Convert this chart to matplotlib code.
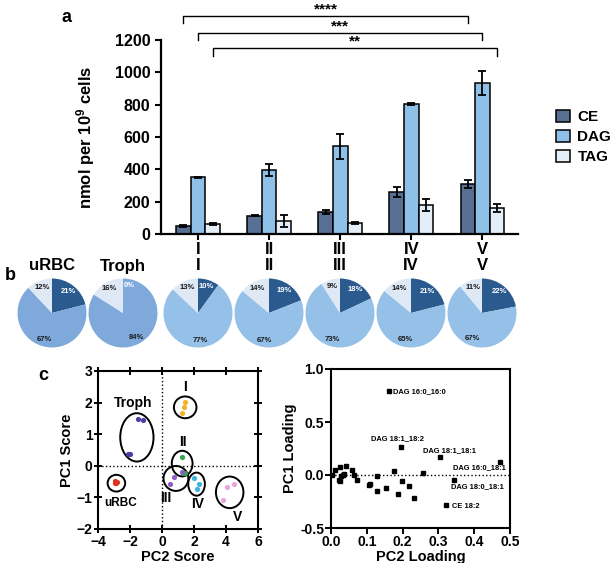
import numpy as np
import matplotlib
matplotlib.use('Agg')
import matplotlib.pyplot as plt
from matplotlib.patches import Ellipse, Patch
from matplotlib import font_manager

plt.rcParams['font.family'] = ['Liberation Sans', 'DejaVu Sans']
plt.rcParams['font.weight'] = 'bold'
plt.rcParams['axes.labelweight'] = 'bold'
plt.rcParams['mathtext.fontset'] = 'custom'
plt.rcParams['mathtext.rm'] = 'Liberation Sans:bold'
plt.rcParams['mathtext.it'] = 'Liberation Sans:bold'
plt.rcParams['mathtext.bf'] = 'Liberation Sans:bold'

# ---- panel a: neutral lipid amounts per stage
stages = ['I', 'II', 'III', 'IV', 'V']
ce = [49, 113, 134, 257, 309]
ce_err = [5, 3, 12, 31, 26]
dag = [350, 395, 543, 806, 935]
dag_err = [5, 36, 78, 6, 75]
tag = [62, 82, 68, 179, 162]
tag_err = [5, 36, 8, 35, 24]

# significance brackets: (series index, bracket height, stars)
brackets = [(0, 1350, '****'), (1, 1245, '***'), (2, 1150, '**')]

# ---- panel b: composition pies (%)
pie_names = ['uRBC', 'Troph', 'I', 'II', 'III', 'IV', 'V']
pie_ce = [21, 0, 10, 19, 18, 21, 22]
pie_dag = [67, 84, 77, 67, 73, 65, 67]
pie_tag = [12, 16, 13, 14, 9, 14, 11]

# ---- panel c: PCA scores
score_groups = ['uRBC', 'Troph', 'I', 'II', 'III', 'IV', 'V']
score_pc2 = {
    'uRBC': [-2.92, -2.85, -2.96, -2.82],
    'Troph': [-1.53, -1.20, -2.13, -2.03],
    'I': [1.46, 1.37, 1.27],
    'II': [1.25, 1.33, 1.44],
    'III': [0.75, 0.50, 1.23],
    'IV': [1.99, 2.32, 2.20],
    'V': [4.05, 4.49, 3.82],
}
score_pc1 = {
    'uRBC': [-0.47, -0.55, -0.53, -0.50],
    'Troph': [1.47, 1.45, 0.36, 0.36],
    'I': [2.03, 1.85, 1.68],
    'II': [0.27, -0.22, -0.24],
    'III': [-0.34, -0.58, -0.19],
    'IV': [-0.40, -0.59, -0.75],
    'V': [-0.66, -0.59, -1.08],
}
score_colors = {'uRBC': '#e0301e', 'Troph': '#4a3ea6', 'I': '#f2b126',
                'II': '#2ea54b', 'III': '#8d5ec6', 'IV': '#3cb3dc',
                'V': '#e9a3da'}

# ---- panel c: PCA loadings
load_pc2 = [0.161, 0.195, 0.305, 0.473, 0.343, 0.322,
            0.002, 0.011, 0.026, 0.041, 0.060, 0.063, 0.072, 0.021, 0.024,
            0.029, 0.033, 0.037, 0.105, 0.110, 0.128, 0.128, 0.155, 0.177,
            0.186, 0.198, 0.219, 0.232, 0.256]
load_pc1 = [0.79, 0.26, 0.17, 0.12, -0.047, -0.283,
            0.0, 0.05, 0.08, 0.085, 0.044, 0.003, -0.044, -0.044, -0.053,
            -0.013, 0.0, 0.009, -0.097, -0.085, -0.009, -0.148, -0.127, 0.04,
            -0.18, -0.06, -0.107, -0.214, 0.02]
load_names = ['DAG 16:0_16:0', 'DAG 18:1_18:2', 'DAG 18:1_18:1',
              'DAG 16:0_18:1', 'DAG 18:0_18:1', 'CE 18:2']

CE_C, DAG_C, TAG_C = '#566f93', '#8fc0e8', '#e4eef9'

installed = {f.name for f in font_manager.fontManager.ttflist}
narrow = 'Liberation Sans Narrow' in installed

W, H = 615, 563
fig = plt.figure(figsize=(W / 100, H / 100), dpi=100)


def box(x0, y0, x1, y1):
    # pixel box (top-left origin) -> figure fraction rect
    return [x0 / W, 1 - y1 / H, (x1 - x0) / W, (y1 - y0) / H]


# ================= panel a
ax = fig.add_axes(box(161, 40, 518, 234))
x = np.arange(len(stages))
w = 0.205
ekw = dict(elinewidth=1.3, capthick=1.3, ecolor='black')
for k, (vals, errs, col) in enumerate([(ce, ce_err, CE_C), (dag, dag_err, DAG_C),
                                       (tag, tag_err, TAG_C)]):
    ax.bar(x + (k - 1) * w, vals, w, yerr=errs, color=col, edgecolor='black',
           linewidth=1.1, capsize=3, error_kw=ekw)
ax.set_xlim(-0.52, 4.5)
ax.set_ylim(0, 1200)
ax.set_yticks(range(0, 1201, 200))
ax.set_xticks(x, stages)
ax.tick_params(axis='y', labelsize=11.5, length=4, width=1.5)
ax.tick_params(axis='x', labelsize=12, length=4, width=1.5, pad=2)
for s in ['top', 'right']:
    ax.spines[s].set_visible(False)
for s in ['left', 'bottom']:
    ax.spines[s].set_linewidth(1.6)
ax.set_ylabel('nmol per 10$^{9}$ cells', fontsize=12, labelpad=13)

for k, yb, stars in brackets:
    x0 = x[0] + (k - 1) * w
    x1 = x[-1] + (k - 1) * w
    ax.plot([x0, x0, x1, x1], [yb - 47, yb, yb, yb - 47], color='black',
            lw=1, clip_on=False)
    ax.text((x0 + x1) / 2, yb + 40, stars, ha='center', va='center',
            fontsize=11)

handles = [Patch(facecolor=c, edgecolor='black', linewidth=1.1)
           for c in (CE_C, DAG_C, TAG_C)]
fig.legend(handles, ['CE', 'DAG', 'TAG'], loc='center left',
           bbox_to_anchor=(556 / W, 1 - 137 / H), frameon=False,
           fontsize=11, handlelength=0.9, handleheight=0.9,
           handletextpad=0.5, labelspacing=0.35, borderpad=0, borderaxespad=0)
fig.text(67 / W, 1 - 18 / H, 'a', fontsize=13, ha='center', va='center')

# ================= panel b
pie_cx = [52, 123, 198, 269, 340, 411, 482]
R, CY = 34.5, 313
for i, name in enumerate(pie_names):
    cx = pie_cx[i]
    pax = fig.add_axes(box(cx - R, CY - R, cx + R, CY + R))
    dcol = '#7ea9da' if i < 2 else '#95c0e7'
    vals = [pie_ce[i], pie_dag[i], pie_tag[i]]
    pax.pie(vals, colors=['#2a5a8e', dcol, '#dfe9f5'], startangle=90,
            counterclock=False, radius=1, wedgeprops=dict(linewidth=0))
    pax.set_xlim(-1, 1)
    pax.set_ylim(-1, 1)
    cum = 0
    for j, v in enumerate(vals):
        mid = np.deg2rad(90 - (cum + v / 2) * 3.6)
        cum += v
        r = 0.8
        pax.text(r * np.cos(mid) + (0.02 if v == 0 else 0), r * np.sin(mid),
                 f'{v}%', ha='left' if v == 0 else 'center', va='center',
                 fontsize=5.5, color='white' if j == 0 else '#1a1a1a')
    fig.text(cx / W, 1 - 266 / H, name, ha='center', va='center', fontsize=12)
fig.text(10 / W, 1 - 275 / H, 'b', fontsize=13, ha='center', va='center')

# ================= panel c, scores
ells = {'uRBC': (-2.85, -0.55, 1.1, 0.53), 'Troph': (-1.57, 0.9, 2.08, 1.53),
        'I': (1.45, 1.85, 1.41, 0.69), 'II': (1.26, 0.07, 1.3, 0.81),
        'III': (0.87, -0.40, 1.55, 0.79), 'IV': (2.16, -0.58, 1.04, 0.73),
        'V': (4.23, -0.84, 1.72, 1.0)}
labs = {'uRBC': (-2.57, -1.17, 8.5), 'Troph': (-1.78, 2.0, 10),
        'I': (1.46, 2.5, 10), 'II': (1.29, 0.76, 10), 'III': (0.25, -1.03, 10),
        'IV': (2.22, -1.21, 10), 'V': (4.71, -1.61, 10)}
cax = fig.add_axes(box(98, 371, 258, 529))
cax.axhline(0, color='black', ls=':', lw=1)
cax.axvline(0, color='black', ls=':', lw=1)
for g in score_groups:
    cax.scatter(score_pc2[g], score_pc1[g], s=14, color=score_colors[g],
                zorder=3, linewidths=0)
    ex, ey, ew, eh = ells[g]
    cax.add_patch(Ellipse((ex, ey), ew, eh, fill=False, lw=1.4,
                          edgecolor='black'))
    lx, ly, fs = labs[g]
    cax.text(lx, ly, g, ha='center', va='center', fontsize=fs)
cax.set_xlim(-4, 6)
cax.set_ylim(-2, 3)
cax.set_xticks(range(-4, 7, 2))
cax.set_yticks(range(-2, 4))
cax.tick_params(direction='inout', length=6, width=1.4, labelsize=10,
                top=True, right=True, pad=1)
for s in cax.spines.values():
    s.set_linewidth(1.5)
cax.set_xlabel('PC2 Score', fontsize=10.5, labelpad=1)
cax.set_ylabel('PC1 Score', fontsize=10.5, labelpad=2)
fig.text(43 / W, 1 - 375 / H, 'c', fontsize=13, ha='center', va='center')

# ================= panel c, loadings
lpos = [(0.173, 0.79), (0.111, 0.34), (0.256, 0.226), (0.342, 0.072),
        (0.335, -0.113), (0.339, -0.30)]
dax = fig.add_axes(box(331, 369, 510, 528))
dax.axhline(0, color='black', ls=':', lw=1)
dax.plot(load_pc2, load_pc1, 's', color='black', ms=2.2, zorder=3)
lab_font = dict(family=['Liberation Sans Narrow', 'Liberation Sans'],
                fontsize=6.3) if narrow else dict(fontsize=5.4)
for name, (tx, ty) in zip(load_names, lpos):
    dax.text(tx, ty, name, ha='left', va='center', **lab_font)
dax.set_xlim(0, 0.5)
dax.set_ylim(-0.5, 1.0)
dax.set_xticks(np.arange(0, 0.51, 0.1))
dax.set_yticks([-0.5, 0.0, 0.5, 1.0])
dax.xaxis.set_major_formatter(plt.FormatStrFormatter('%.1f'))
dax.yaxis.set_major_formatter(plt.FormatStrFormatter('%.1f'))
dax.tick_params(direction='out', length=4, width=1.4, labelsize=10, pad=1)
for s in dax.spines.values():
    s.set_linewidth(1.5)
dax.set_xlabel('PC2 Loading', fontsize=10.5, labelpad=1)
dax.set_ylabel('PC1 Loading', fontsize=10.5, labelpad=2)

fig.savefig('out.png', dpi=100)
